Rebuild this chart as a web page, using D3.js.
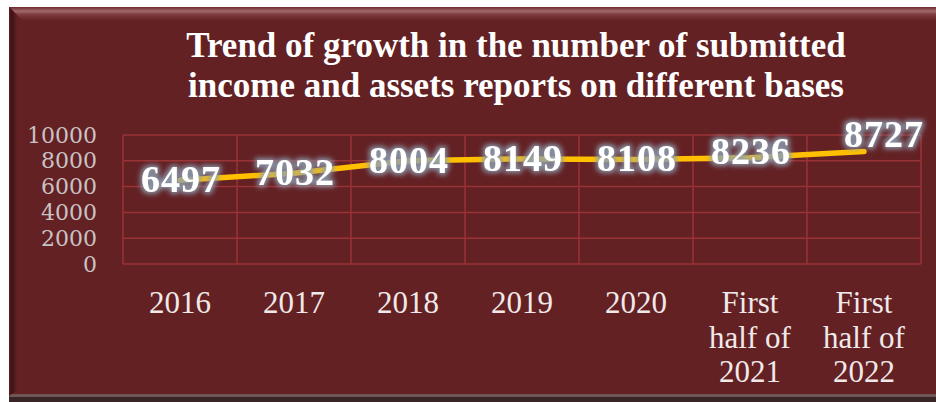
<!DOCTYPE html>
<html lang="en">
  <head>
    <meta charset="utf-8">
    <title>Submitted reports trend</title>
    <style>
      body { margin: 0; background: #ffffff; }
      svg { display: block; }
    </style>
    <script src="https://d3js.org/d3.v7.min.js"></script>
  </head>
  <body>
    <script>
      // chart data
      var categories = ["2016", "2017", "2018", "2019", "2020", "First half of 2021", "First half of 2022"];
      var reports = [6497, 7032, 8004, 8149, 8108, 8236, 8727];
      var yTicks = [0, 2000, 4000, 6000, 8000, 10000];
      var titleLines = ["Trend of growth in the number of submitted", "income and assets reports on different bases"];
      // small nudges of the value labels, as in the original
      var labelNudge = [[0, 0], [0, 0], [0, 0], [0, 0], [0, 0], [0, -6], [19, -16]];

      var w = 936, h = 402;
      var bg = "#632124";

      var svg = d3.select("body").append("svg")
                  .attr("width", w)
                  .attr("height", h);

      var defs = svg.append("defs");

      // glow behind the value labels
      var glow = defs.append("filter").attr("id", "glow")
                     .attr("x", "-20%").attr("y", "-40%")
                     .attr("width", "140%").attr("height", "180%");
      glow.append("feMorphology").attr("in", "SourceAlpha").attr("operator", "dilate")
          .attr("radius", 2).attr("result", "thick");
      glow.append("feGaussianBlur").attr("in", "thick").attr("stdDeviation", 2.8).attr("result", "blur");
      glow.append("feFlood").attr("flood-color", "#8c9fb2").attr("flood-opacity", 0.9).attr("result", "col");
      glow.append("feComposite").attr("in", "col").attr("in2", "blur").attr("operator", "in").attr("result", "halo");
      var merge = glow.append("feMerge");
      merge.append("feMergeNode").attr("in", "halo");
      merge.append("feMergeNode").attr("in", "SourceGraphic");

      var topGrad = defs.append("linearGradient").attr("id", "topBevel")
                        .attr("x1", 0).attr("y1", 0).attr("x2", 0).attr("y2", 1);
      topGrad.append("stop").attr("offset", "0%").attr("stop-color", "#6d2a2d");
      topGrad.append("stop").attr("offset", "30%").attr("stop-color", "#a06a6b");
      topGrad.append("stop").attr("offset", "55%").attr("stop-color", "#7c3a3c");
      topGrad.append("stop").attr("offset", "100%").attr("stop-color", bg);

      var leftGrad = defs.append("linearGradient").attr("id", "leftBevel")
                         .attr("x1", 0).attr("y1", 0).attr("x2", 1).attr("y2", 0);
      leftGrad.append("stop").attr("offset", "0%").attr("stop-color", "#5a1c1f");
      leftGrad.append("stop").attr("offset", "40%").attr("stop-color", "#3f1214");
      leftGrad.append("stop").attr("offset", "100%").attr("stop-color", bg);

      // panel with a bevelled edge
      svg.append("rect").attr("x", 9).attr("y", 7).attr("width", w - 9).attr("height", h - 7)
         .attr("fill", "#3a2526");
      svg.append("rect").attr("x", 9).attr("y", 7).attr("width", w - 9).attr("height", 389)
         .attr("fill", bg);
      svg.append("rect").attr("x", 9).attr("y", 394).attr("width", w - 9).attr("height", 3)
         .attr("fill", "#6e5556");
      svg.append("path").attr("d", "M9,7 L936,7 L936,21 L23,21 Z").attr("fill", "url(#topBevel)");
      svg.append("path").attr("d", "M9,7 L17,15 L17,390 L9,396 Z").attr("fill", "url(#leftBevel)");

      // title
      svg.append("g").selectAll("text")
         .data(titleLines)
         .enter()
         .append("text")
         .attr("x", 516)
         .attr("y", function (d, i) { return 57 + i * 40; })
         .attr("text-anchor", "middle")
         .style("font-family", "'Liberation Serif', serif")
         .style("font-weight", "bold")
         .style("font-size", "35px")
         .style("fill", "#ffffff")
         .text(function (d) { return d; });

      // scales
      var margin = { left: 123, right: 15, top: 135, bottom: 138 };
      var x = d3.scaleBand().domain(categories).range([margin.left, w - margin.right]);
      var y = d3.scaleLinear().domain([0, 10000]).range([h - margin.bottom, margin.top]);

      var gridColor = "#9a3336";
      var grid = svg.append("g");
      grid.selectAll("line.h")
          .data(yTicks)
          .enter()
          .append("line")
          .attr("x1", margin.left).attr("x2", w - margin.right)
          .attr("y1", function (d) { return y(d); })
          .attr("y2", function (d) { return y(d); })
          .attr("stroke", gridColor).attr("stroke-width", 1.5);
      grid.selectAll("line.v")
          .data(categories.concat(["end"]))
          .enter()
          .append("line")
          .attr("x1", function (d, i) { return i < categories.length ? x(d) : x(categories[i - 1]) + x.bandwidth(); })
          .attr("x2", function (d, i) { return i < categories.length ? x(d) : x(categories[i - 1]) + x.bandwidth(); })
          .attr("y1", y(10000)).attr("y2", y(0))
          .attr("stroke", gridColor).attr("stroke-width", 1.5);

      // y axis labels
      var yAxis = d3.axisLeft(y).tickValues(yTicks).tickFormat(d3.format("d")).tickSize(0).tickPadding(0);
      var yg = svg.append("g").attr("transform", "translate(97,0)").call(yAxis);
      yg.select(".domain").remove();
      yg.selectAll("text")
        .style("font-family", "'DejaVu Serif', serif")
        .style("font-size", "22px")
        .style("fill", "#c9c3c3");

      // x axis labels, wrapped like the original
      var xg = svg.append("g");
      xg.selectAll("text")
        .data(categories)
        .enter()
        .append("text")
        .attr("text-anchor", "middle")
        .style("font-family", "'Liberation Serif', serif")
        .style("font-size", "31px")
        .style("fill", "#f1e9e9")
        .each(function (d) {
          var lines = d.indexOf("First") === 0 ? ["First", "half of", d.slice(-4)] : [d];
          var t = d3.select(this);
          lines.forEach(function (s, i) {
            t.append("tspan")
             .attr("x", x(d) + x.bandwidth() / 2)
             .attr("y", 313 + i * 34.5)
             .text(s);
          });
        });

      // the series line
      var line = d3.line()
                   .x(function (d, i) { return x(categories[i]) + x.bandwidth() / 2; })
                   .y(function (d) { return y(d); });
      svg.append("path")
         .datum(reports)
         .attr("d", line)
         .attr("fill", "none")
         .attr("stroke", "#ffc000")
         .attr("stroke-width", 5.5)
         .attr("stroke-linecap", "round")
         .attr("stroke-linejoin", "round");

      // value labels
      svg.append("g").selectAll("text")
         .data(reports)
         .enter()
         .append("text")
         .attr("x", function (d, i) { return x(categories[i]) + x.bandwidth() / 2 + labelNudge[i][0] + 1; })
         .attr("y", function (d, i) { return y(d) + 12 + labelNudge[i][1]; })
         .attr("text-anchor", "middle")
         .attr("filter", "url(#glow)")
         .style("font-family", "'Liberation Serif', serif")
         .style("font-weight", "bold")
         .style("font-size", "38px")
         .style("letter-spacing", "1px")
         .style("fill", "#ffffff")
         .text(function (d) { return d; });
    </script>
  </body>
</html>
